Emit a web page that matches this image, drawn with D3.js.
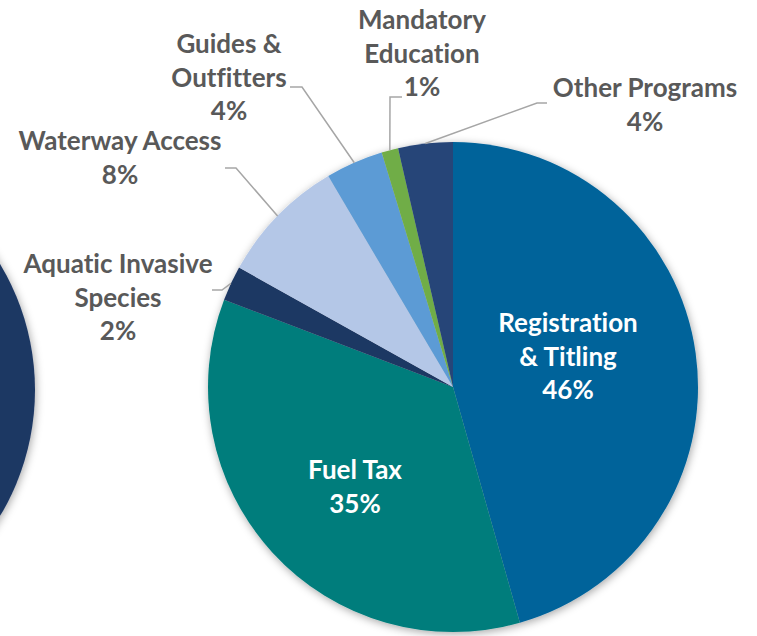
<!DOCTYPE html>
<html>
<head>
<meta charset="utf-8">
<script src="https://cdn.jsdelivr.net/npm/d3@7"></script>
<style>
  body { margin: 0; background: #fff; }
  svg { display: block; }
  text { font-family: Lato, "Open Sans", sans-serif; font-weight: 700; font-variant-ligatures: none; }
</style>
</head>
<body>
<div id="chart-area"></div>
<script>
const width = 757,
  height = 636,
  radius = 245,
  center = { x: 453, y: 387 },
  lineGap = 33.5;

// slices, clockwise from 12 o'clock
const categories = ["Registration & Titling", "Fuel Tax", "Aquatic Invasive Species", "Waterway Access", "Guides & Outfitters", "Mandatory Education", "Other Programs"];
const values = [45.6, 35.2, 2.3, 8.4, 3.8, 1.1, 3.6];
const colors = ["#03639A", "#007D7B", "#1F3864", "#B4C7E7", "#5B9BD5", "#70AD47", "#264478"];
const labelLines = [["Registration", "& Titling"], ["Fuel Tax"], ["Aquatic Invasive", "Species"], ["Waterway Access"], ["Guides &", "Outfitters"], ["Mandatory", "Education"], ["Other Programs"]];

// label placement: text centre, first baseline, leader start / elbow
const labelPos = [
  { x: 568, y: 332, inside: true },
  { x: 355, y: 479, inside: true },
  { x: 118, y: 273, lx: 212, ex: 222, ly: 290 },
  { x: 120, y: 150, lx: 225, ex: 236, ly: 168 },
  { x: 229, y: 53, lx: 290, ex: 302, ly: 87 },
  { x: 422, y: 29, lx: 402, ex: 390, ly: 97 },
  { x: 645, y: 97, lx: 547, ex: 537, ly: 103 }
];

const svg = d3
  .select("#chart-area")
  .append("svg")
  .attr("width", width)
  .attr("height", height);

const defs = svg.append("defs");
defs.append("filter")
  .attr("id", "shadow")
  .attr("x", "-20%").attr("y", "-20%")
  .attr("width", "140%").attr("height", "140%")
  .append("feDropShadow")
  .attr("dx", 1).attr("dy", 2)
  .attr("stdDeviation", 4)
  .attr("flood-color", "#000")
  .attr("flood-opacity", 0.35);

// neighbouring chart, cut off at the left edge
svg.append("circle")
  .attr("cx", center.x - 663)
  .attr("cy", center.y + 3)
  .attr("r", radius)
  .attr("fill", "#1F3864")
  .attr("filter", "url(#shadow)");

const data = categories.map((c, i) => ({ name: c, value: values[i], color: colors[i], lines: labelLines[i], pos: labelPos[i] }));

const pie = d3.pie().sort(null).value(d => d.value);
const arcs = pie(data);

const arc = d3.arc().innerRadius(0).outerRadius(radius);
const edge = d3.arc().innerRadius(radius).outerRadius(radius);

const g = svg.append("g").attr("transform", "translate(" + center.x + "," + center.y + ")");

g.append("g")
  .attr("filter", "url(#shadow)")
  .selectAll("path")
  .data(arcs)
  .enter()
  .append("path")
  .attr("d", arc)
  .attr("fill", d => d.data.color);

//leader lines
svg.append("g")
  .selectAll("polyline")
  .data(arcs.filter(d => !d.data.pos.inside))
  .enter()
  .append("polyline")
  .attr("points", d => {
    const p = edge.centroid(d);
    const pos = d.data.pos;
    return [[pos.lx, pos.ly], [pos.ex, pos.ly], [p[0] + center.x, p[1] + center.y]].join(" ");
  })
  .attr("fill", "none")
  .attr("stroke", "#A6A6A6")
  .attr("stroke-width", 1.5);

//labels
const labels = svg.append("g")
  .selectAll("text")
  .data(arcs)
  .enter()
  .append("text")
  .attr("text-anchor", "middle")
  .attr("font-size", "26px")
  .attr("fill", d => (d.data.pos.inside ? "#fff" : "#595959"));

labels.each(function(d) {
  const t = d3.select(this);
  const lines = d.data.lines.concat([Math.round(d.data.value) + "%"]);
  lines.forEach((line, i) => {
    t.append("tspan")
      .attr("x", d.data.pos.x)
      .attr("y", d.data.pos.y + i * lineGap)
      .text(line);
  });
});
</script>
</body>
</html>
